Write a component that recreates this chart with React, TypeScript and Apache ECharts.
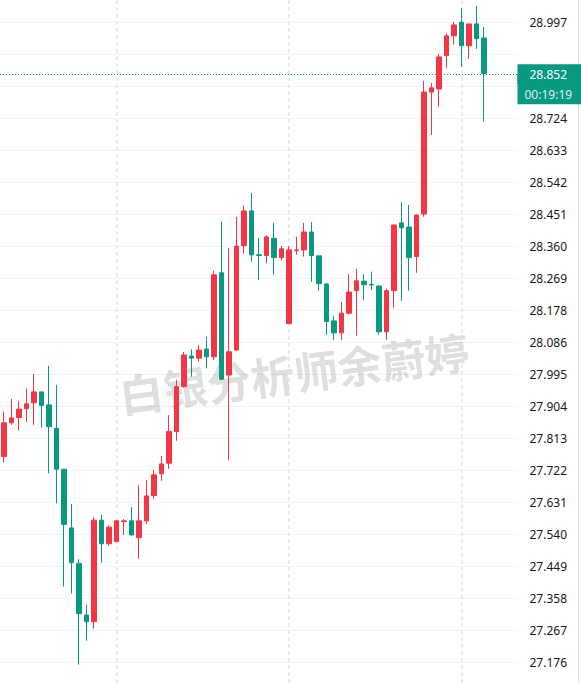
import React, { useEffect, useRef } from 'react';
import * as echarts from 'echarts';

// Right-axis tick labels (bottom to top)
const tickLabels = [
  '27.176', '27.267', '27.358', '27.449', '27.540', '27.631', '27.722',
  '27.813', '27.904', '27.995', '28.086', '28.178', '28.269', '28.360',
  '28.451', '28.542', '28.633', '28.724', '28.815', '28.906', '28.997',
];

// Candles (oldest first)
const opens = [
  27.762, 27.858, 27.873, 27.898, 27.915, 27.946, 27.909, 27.842, 27.726, 27.559,
  27.458, 27.311, 27.292, 27.581, 27.514, 27.520, 27.577, 27.579, 27.531, 27.579,
  27.651, 27.713, 27.743, 27.833, 27.961, 28.048, 28.042, 28.068, 28.046, 28.285,
  27.994, 28.065, 28.362, 28.461, 28.336, 28.334, 28.383, 28.328, 28.140, 28.348,
  28.350, 28.401, 28.333, 28.253, 28.148, 28.114, 28.170, 28.234, 28.261, 28.252,
  28.247, 28.117, 28.234, 28.427, 28.415, 28.331, 28.452, 28.799, 28.808, 28.903,
  28.959, 28.998, 28.931, 28.993, 28.953,
];
const closes = [
  27.858, 27.872, 27.897, 27.912, 27.946, 27.907, 27.847, 27.726, 27.569, 27.460,
  27.315, 27.292, 27.581, 27.514, 27.561, 27.579, 27.579, 27.539, 27.579, 27.650,
  27.710, 27.741, 27.833, 27.961, 28.051, 28.042, 28.065, 28.046, 28.279, 27.982,
  28.060, 28.361, 28.461, 28.336, 28.334, 28.387, 28.328, 28.353, 28.350, 28.350,
  28.401, 28.334, 28.254, 28.146, 28.114, 28.170, 28.230, 28.262, 28.251, 28.250,
  28.117, 28.234, 28.421, 28.413, 28.328, 28.449, 28.799, 28.811, 28.899, 28.959,
  28.990, 28.931, 28.993, 28.951, 28.852,
];
const lows = [
  27.745, 27.852, 27.836, 27.861, 27.852, 27.844, 27.714, 27.629, 27.392, 27.372,
  27.170, 27.238, 27.272, 27.460, 27.508, 27.520, 27.539, 27.537, 27.471, 27.569,
  27.642, 27.693, 27.727, 27.807, 27.958, 27.989, 28.032, 28.013, 28.037, 27.980,
  27.752, 28.063, 28.340, 28.316, 28.264, 28.312, 28.279, 28.320, 28.140, 28.336,
  28.331, 28.259, 28.234, 28.108, 28.094, 28.094, 28.166, 28.106, 28.207, 28.236,
  28.108, 28.094, 28.186, 28.205, 28.234, 28.285, 28.444, 28.677, 28.757, 28.868,
  28.934, 28.871, 28.893, 28.922, 28.715,
];
const highs = [
  27.890, 27.926, 27.920, 27.956, 27.997, 27.946, 28.020, 27.966, 27.726, 27.627,
  27.470, 27.340, 27.589, 27.596, 27.567, 27.581, 27.584, 27.618, 27.681, 27.695,
  27.724, 27.764, 27.880, 27.980, 28.060, 28.067, 28.079, 28.103, 28.291, 28.430,
  28.355, 28.444, 28.476, 28.512, 28.383, 28.392, 28.427, 28.361, 28.361, 28.387,
  28.427, 28.429, 28.333, 28.255, 28.162, 28.202, 28.281, 28.296, 28.281, 28.288,
  28.249, 28.240, 28.421, 28.486, 28.478, 28.451, 28.831, 28.825, 28.907, 28.966,
  28.998, 29.038, 28.993, 29.044, 28.984,
];

// Time slots (candles + empty slots to the right)
const categories = Array.from({ length: 69 }, (_, i) => 'K' + (i + 1));
const sessionStarts = [15, 38, 61];

const lastPrice = 28.852;
const countdown = '00:19:19';
const watermark = '白银分析师余蔚婷';

const UP = '#F23645';
const DOWN = '#089981';

export default function App() {
  const ref = useRef<HTMLDivElement>(null);

  useEffect(() => {
    const chart = echarts.init(ref.current!, null, { renderer: 'svg' });

    const H = 683;
    const first = parseFloat(tickLabels[0]);
    const last = parseFloat(tickLabels[tickLabels.length - 1]);
    const n = tickLabels.length - 1;
    const step = (last - first) / n;
    // pixel rows of the first / last tick
    const yFirst = 662.5;
    const yLast = 22.5;
    const pxPerStep = (yFirst - yLast) / n;
    const priceMin = first - ((H - yFirst) / pxPerStep) * step;
    const priceMax = first + (yFirst / pxPerStep) * step;

    const data = opens.map((o, i) => [o, closes[i], lows[i], highs[i]]);

    chart.setOption({
      animation: false,
      backgroundColor: '#ffffff',
      grid: [
        { left: 0, right: 63.5, top: 0, bottom: 0 },
        { left: 0, right: 63.5, top: yLast, bottom: H - yFirst },
      ],
      xAxis: [
        { type: 'category', data: categories, boundaryGap: true, show: false, gridIndex: 0 },
        { type: 'category', data: categories, boundaryGap: true, show: false, gridIndex: 1 },
      ],
      yAxis: [
        {
          type: 'value',
          gridIndex: 0,
          position: 'left',
          min: priceMin,
          max: priceMax,
          show: false,
        },
        {
          type: 'value',
          gridIndex: 1,
          position: 'right',
          min: 0,
          max: n,
          interval: 1,
          axisLine: { show: false },
          axisTick: { show: false },
          splitLine: { show: true, lineStyle: { color: '#f0f3fa', width: 1 } },
          axisLabel: {
            margin: 12,
            color: '#131722',
            fontSize: 12,
            fontFamily: 'Noto Sans',
            formatter: (v: number) => {
              const i = Math.round(v);
              if (Math.abs(v - i) > 1e-6) return '';
              if (Math.abs(first + i * step - lastPrice) < step * 0.7) return '';
              return tickLabels[i] ?? '';
            },
          },
        },
      ],
      graphic: [
        {
          type: 'text',
          x: 294,
          y: 372,
          rotation: 0.127,
          silent: true,
          z: 1,
          style: {
            text: watermark,
            font: 'bold 44px "Noto Sans CJK SC"',
            fill: 'rgba(0,0,0,0.15)',
            align: 'center',
            verticalAlign: 'middle',
          },
        },
        {
          type: 'line',
          silent: true,
          shape: { x1: 578.5, y1: 0, x2: 578.5, y2: H },
          style: { stroke: '#e0e3eb', lineWidth: 1 },
        },
      ],
      series: [
        {
          type: 'candlestick',
          xAxisIndex: 0,
          yAxisIndex: 0,
          data,
          barWidth: 5,
          clip: false,
          itemStyle: {
            color: UP,
            color0: DOWN,
            borderColor: UP,
            borderColor0: DOWN,
            borderWidth: 1,
          },
          markLine: {
            silent: true,
            z: 1,
            symbol: ['none', 'none'],
            animation: false,
            data: [
              ...sessionStarts.map((i) => ({
                xAxis: categories[i],
                lineStyle: { color: '#e0e3eb', type: [4, 3], width: 1.5 },
                label: { show: false },
              })),
              {
                yAxis: lastPrice,
                lineStyle: { color: 'rgba(0,0,0,0)', width: 0 },
                label: {
                  show: true,
                  position: 'end',
                  distance: 0,
                  formatter: countdown,
                  backgroundColor: DOWN,
                  color: 'rgba(255,255,255,0.88)',
                  fontSize: 12,
                  fontFamily: 'Noto Sans',
                  lineHeight: 20,
                  padding: [10, 0, 0, 7],
                  width: 57,
                  align: 'left',
                  verticalAlign: 'top',
                },
              },
              {
                yAxis: lastPrice,
                lineStyle: { color: DOWN, type: [1, 2], width: 1 },
                label: {
                  show: true,
                  position: 'end',
                  distance: 0,
                  formatter: lastPrice.toFixed(3),
                  backgroundColor: DOWN,
                  color: '#ffffff',
                  fontSize: 12,
                  fontFamily: 'Noto Sans',
                  lineHeight: 20,
                  height: 20,
                  padding: [0, 0, 0, 12],
                  width: 52,
                  align: 'left',
                  verticalAlign: 'middle',
                },
              },
            ],
          },
        },
      ],
    });

    return () => chart.dispose();
  }, []);

  return (
    <div
      ref={ref}
      style={{ position: 'absolute', left: 0, top: 0, width: 581, height: 683 }}
    />
  );
}
